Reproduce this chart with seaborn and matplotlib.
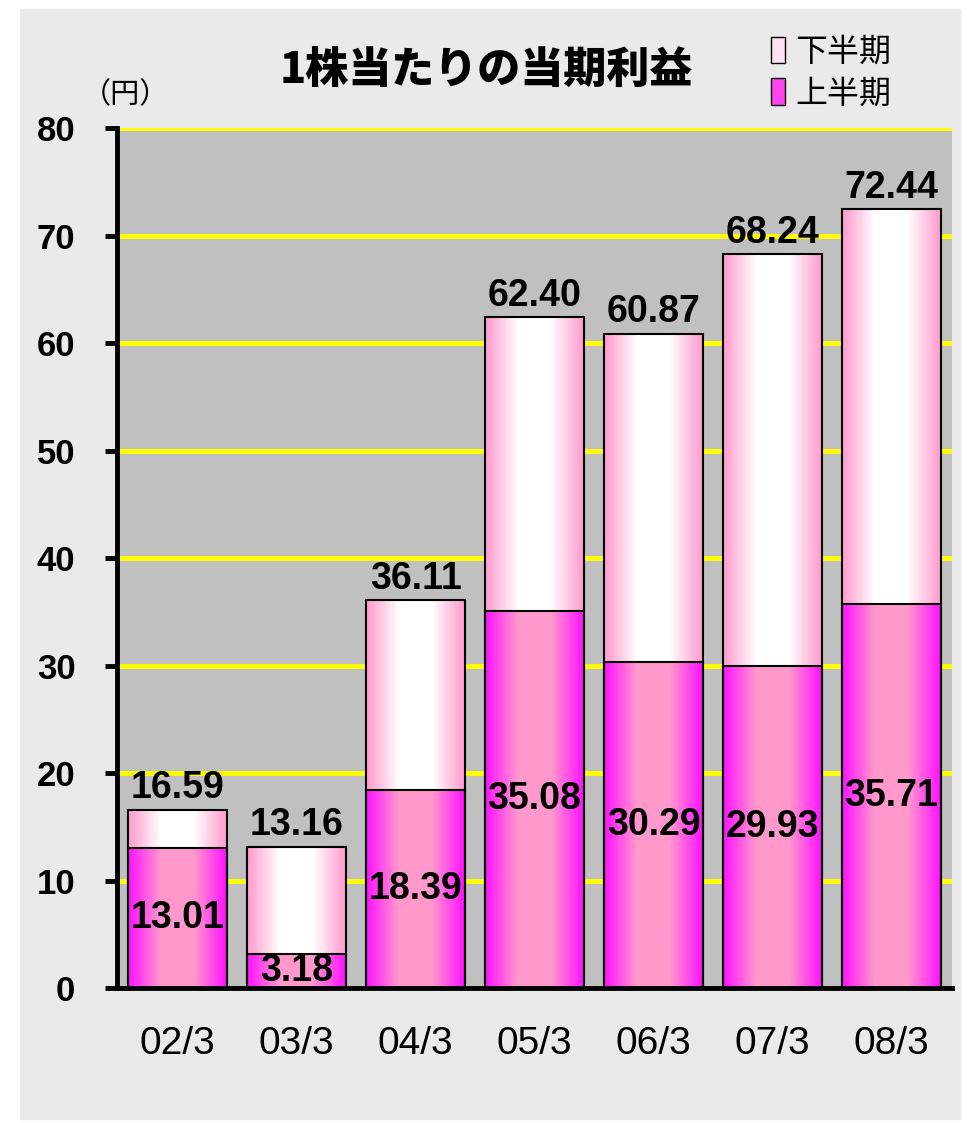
import numpy as np
import pandas as pd
import seaborn as sns
import matplotlib.pyplot as plt
from matplotlib.patches import Rectangle, Patch
from matplotlib.colors import LinearSegmentedColormap

years = ["02/3", "03/3", "04/3", "05/3", "06/3", "07/3", "08/3"]
first_half = [13.01, 3.18, 18.39, 35.08, 30.29, 29.93, 35.71]
full_year = [16.59, 13.16, 36.11, 62.40, 60.87, 68.24, 72.44]
yticks = [0, 10, 20, 30, 40, 50, 60, 70, 80]

df = pd.DataFrame({"year": years, "first": first_half, "total": full_year})

sns.set_style("white")
plt.rcParams['font.family'] = ['Liberation Sans', 'Noto Sans CJK JP', 'DejaVu Sans']
plt.rcParams['text.color'] = 'black'
plt.rcParams['xtick.color'] = 'black'
plt.rcParams['ytick.color'] = 'black'
cjk = ['Noto Sans CJK JP', 'DejaVu Sans']

fig = plt.figure(figsize=(9.67, 11.23), dpi=100, facecolor="white")
fig.patches.append(Rectangle((20/967, 4/1123), 940/967, 1110/1123,
                             transform=fig.transFigure, color="#eaeaea", zorder=-1))
ax = fig.add_axes([0.121, 0.1202, 0.8635, 0.7658])
ax.set_facecolor("#c0c0c0")

sns.barplot(data=df, x="year", y="total", color="white", width=0.83, errorbar=None,
            edgecolor="black", linewidth=1.5, ax=ax)
sns.barplot(data=df, x="year", y="first", color="white", width=0.83, errorbar=None,
            edgecolor="black", linewidth=1.5, ax=ax)

# gradient fills
upper_cmap = LinearSegmentedColormap.from_list("upper", ["#ff99cc", "#ffffff", "#ffffff", "#ff99cc"])
lower_cmap = LinearSegmentedColormap.from_list("lower", ["#ff11ff", "#ff99cc", "#ff99cc", "#ff11ff"])
grad = np.linspace(0, 1, 256).reshape(1, -1)
n = len(years)
for i, bar in enumerate(ax.patches):
    cmap = upper_cmap if i < n else lower_cmap
    x0, y0 = bar.get_x(), bar.get_y()
    w, h = bar.get_width(), bar.get_height()
    img = ax.imshow(grad, cmap=cmap, extent=[x0, x0 + w, y0, y0 + h], aspect="auto",
                    interpolation="bilinear", zorder=bar.get_zorder() - 0.1)
    img.set_clip_path(bar)
    bar.set_facecolor("none")

for i in range(n):
    ax.text(i, full_year[i] + 0.3, f"{full_year[i]:.2f}", ha="center", va="bottom",
            fontsize=27, fontweight="bold")
    ax.text(i, first_half[i] / 2, f"{first_half[i]:.2f}", ha="center", va="center",
            fontsize=27, fontweight="bold")

ax.set_xlim(-0.51, n - 0.49)
ax.set_ylim(0, 80)
ax.set_yticks(yticks)
ax.set_yticklabels([str(v) for v in yticks], fontweight="bold")
ax.yaxis.grid(True, color="#ffff00", linewidth=3.5)
ax.set_axisbelow(True)
ax.set_xlabel("")
ax.set_ylabel("")
ax.tick_params(axis="y", left=True, length=9, width=3.5, pad=21, labelsize=25)
ax.tick_params(axis="x", bottom=False, pad=24, labelsize=28)
for s in ["top", "right"]:
    ax.spines[s].set_visible(False)
for s in ["left", "bottom"]:
    ax.spines[s].set_color("black")
    ax.spines[s].set_linewidth(3.5)

fig.text(0.503, 1 - 70/1123, "1株当たりの当期利益", ha="center", va="center",
         fontsize=31, fontweight="heavy", family=cjk)
fig.text(125/967, 1 - 95/1123, "（円）", ha="center", va="center", fontsize=21, family=cjk)

handles = [Patch(facecolor="#ffe0f0", edgecolor="black"),
           Patch(facecolor="#ff44ee", edgecolor="black")]
fig.legend(handles, ["下半期", "上半期"], loc="upper left",
           bbox_to_anchor=(755/967, 1 - 20/1123), frameon=False,
           prop={"family": cjk, "size": 23}, handlelength=0.45, handleheight=0.9,
           handletextpad=0.3, labelspacing=0.3, borderpad=0)

fig.savefig("out.png", dpi=100, facecolor=fig.get_facecolor())
